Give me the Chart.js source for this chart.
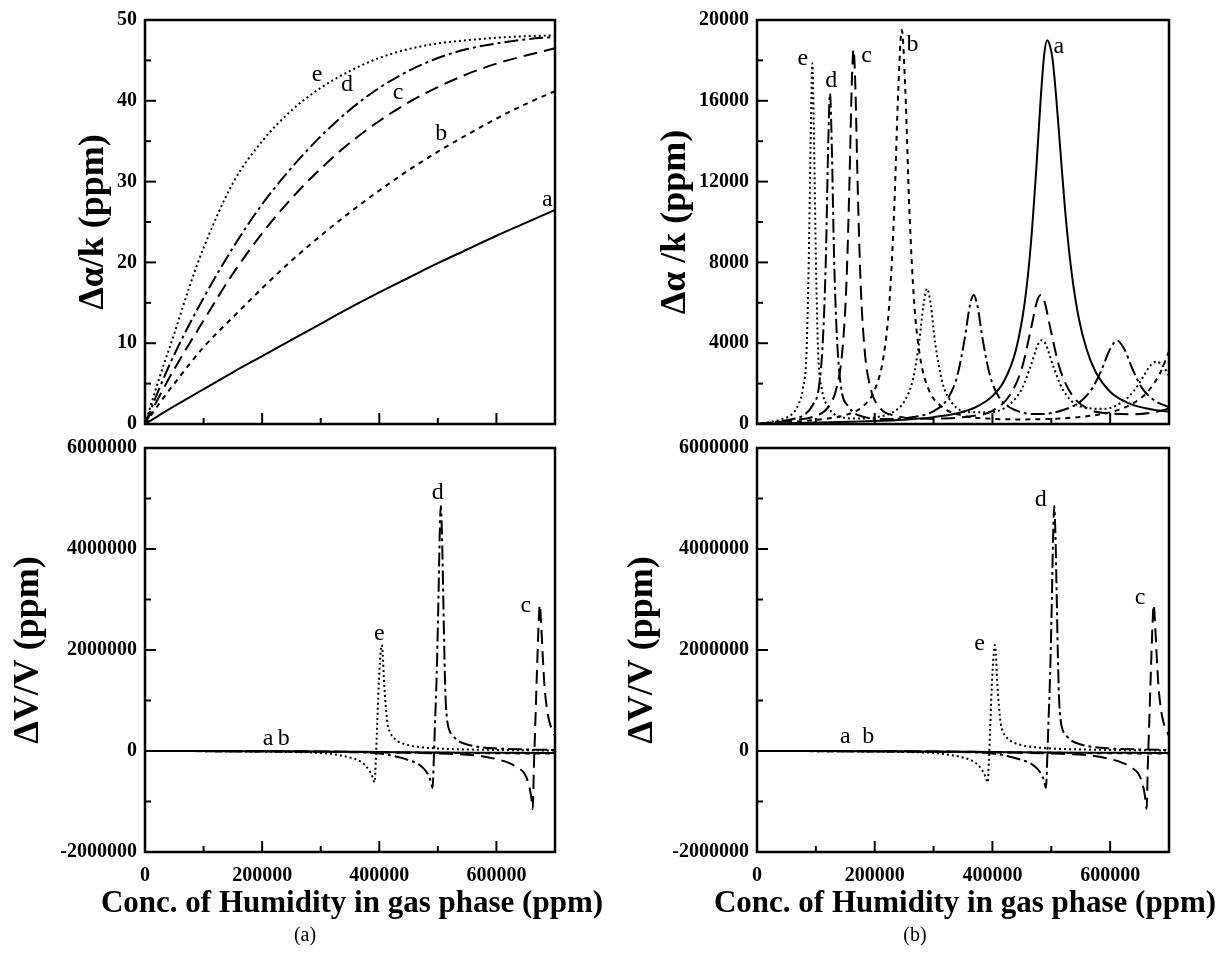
<!DOCTYPE html>
<html>
<head>
<meta charset="utf-8">
<script src="https://cdn.jsdelivr.net/npm/chart.js@4.4.1/dist/chart.umd.min.js"></script>
<style>
  html, body { margin: 0; padding: 0; background: #fff; }
  body { width: 1223px; height: 954px; position: relative; overflow: hidden; font-family: "Liberation Serif", "Times New Roman", serif; }
  canvas { position: absolute; }
  .cap { position: absolute; font-size: 20px; transform: translate(-50%, -50%); white-space: nowrap; }
  .xt { position: absolute; font-size: 31px; font-weight: bold; transform: translate(-50%, -50%); white-space: nowrap; }
</style>
</head>
<body>
<canvas id="tl" width="600" height="460" style="left:0;top:0"></canvas>
<canvas id="bl" width="600" height="534" style="left:0;top:420px"></canvas>
<canvas id="tr" width="611" height="460" style="left:612px;top:0"></canvas>
<canvas id="br" width="611" height="534" style="left:612px;top:420px"></canvas>
<div class="xt" style="left:352px;top:902px">Conc. of Humidity in gas phase (ppm)</div>
<div class="xt" style="left:965px;top:902px">Conc. of Humidity in gas phase (ppm)</div>
<div class="cap" style="left:305px;top:934px">(a)</div>
<div class="cap" style="left:915px;top:934px">(b)</div>
<script>
// x: humidity in gas phase (ppm)
const xTicks = [0, 200000, 400000, 600000];
const xMinor = [100000, 300000, 500000];

// ---- (a) top: Δα/k (ppm) ----
const tlTicks = [0, 10, 20, 30, 40, 50];
const tlMinor = [5, 15, 25, 35, 45];
const tlA = [[0,0],[50000,2.2],[100000,4.3],[150000,6.4],[200000,8.4],[250000,10.4],[300000,12.4],[350000,14.4],[400000,16.3],[450000,18.1],[500000,19.9],[550000,21.6],[600000,23.3],[650000,24.9],[700000,26.5]];
const tlB = [[0,0],[25000,2.6],[50000,5],[100000,9.5],[150000,13.2],[200000,16.8],[250000,20.2],[300000,23.3],[350000,26.2],[400000,28.9],[450000,31.4],[500000,33.7],[550000,35.8],[600000,37.8],[650000,39.6],[700000,41.2]];
const tlC = [[0,0],[25000,3.5],[50000,6.8],[100000,12.8],[150000,18.6],[200000,23.6],[250000,27.9],[300000,31.6],[350000,34.8],[400000,37.5],[450000,39.8],[500000,41.7],[550000,43.3],[600000,44.6],[650000,45.6],[700000,46.5]];
const tlD = [[0,0],[25000,4.5],[50000,8.6],[100000,15.6],[150000,21.8],[200000,27.2],[250000,31.7],[300000,35.6],[350000,38.9],[400000,41.6],[450000,43.7],[500000,45.3],[550000,46.4],[600000,47.1],[650000,47.6],[700000,47.9]];
const tlE = [[0,0],[25000,5.8],[50000,11.2],[75000,16.8],[100000,21.8],[150000,29.8],[200000,35],[250000,38.8],[300000,41.6],[350000,43.7],[400000,45.3],[450000,46.4],[500000,47.1],[550000,47.5],[600000,47.8],[650000,48],[700000,48.1]];
const tlLabels = [['e',294000,43.2],['d',345000,42],['c',432000,41],['b',506000,35.9],['a',687000,27.7]];

// ---- (b) top: Δα/k (ppm) ----
const trTicks = [0, 4000, 8000, 12000, 16000, 20000];
const trMinor = [2000, 6000, 10000, 14000, 18000];
const trA = [[0,0],[50000,40],[100000,80],[200000,150],[250000,215],[300000,340],[340000,530],[370000,810],[400000,1380],[420000,2140],[440000,3680],[455000,6050],[465000,8800],[475000,12840],[482000,16100],[488000,18300],[493000,19000],[498000,18700],[502000,18100],[508000,16300],[515000,13700],[525000,10100],[535000,7400],[547000,5200],[560000,3700],[575000,2600],[600000,1600],[630000,1050],[660000,780],[700000,600]];
const trB = [[0,0],[100000,205],[150000,440],[180000,875],[200000,1690],[215000,3340],[225000,6040],[233000,10520],[240000,16510],[246000,19500],[252000,16510],[259000,10520],[267000,6040],[277000,3340],[292000,1690],[312000,900],[350000,415],[400000,260],[450000,227],[500000,255],[550000,351],[600000,580],[630000,880],[655000,1350],[670000,1820],[685000,2530],[700000,3590]];
const trC = [[0,0],[60000,180],[100000,410],[120000,795],[135000,1770],[145000,3620],[152000,7000],[157000,11860],[161000,16800],[164000,18550],[167000,16800],[171000,11860],[176000,7000],[183000,3620],[193000,1770],[208000,830],[240000,380],[280000,263],[320000,273],[360000,376],[400000,650],[430000,1450],[450000,2760],[465000,4645],[476000,6100],[482000,6390],[488000,6110],[499000,4660],[514000,2790],[534000,1490],[564000,730],[600000,520],[640000,480],[680000,610],[700000,765]];
const trD = [[0,0],[50000,190],[80000,450],[95000,950],[105000,1790],[112000,4180],[117000,8200],[121000,13860],[124000,16360],[127000,13860],[131000,8200],[136000,4180],[143000,1790],[155000,880],[180000,367],[220000,250],[260000,320],[300000,640],[325000,1300],[340000,2350],[352000,4070],[362000,5910],[368000,6390],[374000,5920],[384000,4090],[396000,2380],[411000,1340],[440000,670],[480000,490],[520000,690],[550000,1120],[570000,1790],[585000,2650],[600000,3710],[612000,4130],[624000,3710],[639000,2650],[654000,1790],[674000,1190],[700000,830]];
const trE = [[0,0],[40000,220],[60000,500],[70000,940],[78000,1750],[84000,3450],[88000,8180],[91000,13750],[94000,17860],[97000,13750],[100000,8200],[104000,3460],[110000,1760],[120000,880],[140000,369],[170000,267],[200000,324],[230000,576],[250000,1105],[265000,2215],[275000,3940],[283000,5930],[289000,6700],[295000,5950],[303000,3950],[315000,2056],[330000,1096],[360000,580],[400000,595],[430000,990],[450000,1740],[465000,2870],[478000,3970],[484000,4150],[490000,3980],[503000,2890],[520000,1680],[550000,865],[590000,750],[620000,1080],[640000,1620],[655000,2280],[668000,2880],[679000,3085],[690000,2860],[700000,2390]];
const trLabels = [['e',78000,18070],['d',126000,17000],['c',186000,18230],['b',264000,18800],['a',513000,18700]];

// ---- (a),(b) bottom: ΔV/V (ppm), same curves in both ----
const dvTicks = [-2000000, 0, 2000000, 4000000, 6000000];
const dvMinor = [-1000000, 1000000, 3000000, 5000000];
const dvA = [[0,0],[100000,-2000],[200000,-5000],[300000,-10000],[400000,-20000],[500000,-30000],[600000,-35000],[700000,-40000]];
const dvB = [[0,0],[100000,-3000],[200000,-8000],[300000,-15000],[400000,-25000],[500000,-35000],[600000,-45000],[700000,-50000]];
const dvC = [[0,0],[300000,-10000],[400000,-25000],[500000,-50000],[568000,-90000],[600000,-160000],[620000,-230000],[635000,-320000],[648000,-450000],[655000,-650000],[659000,-880000],[662000,-1150000],[664000,-300000],[666000,400000],[669000,1500000],[672000,2500000],[674000,2900000],[676000,2600000],[679000,1900000],[682000,1300000],[686000,850000],[690000,600000],[695000,420000],[700000,300000]];
const dvD = [[0,0],[200000,-5000],[300000,-15000],[400000,-50000],[432000,-120000],[450000,-180000],[466000,-255000],[476000,-350000],[483000,-460000],[488000,-600000],[491000,-730000],[493000,-200000],[495000,500000],[498000,1500000],[501000,3000000],[503000,4200000],[505000,4850000],[507000,4300000],[509000,3200000],[511000,2000000],[513000,1100000],[516000,600000],[520000,400000],[526000,300000],[535000,200000],[550000,130000],[570000,80000],[600000,50000],[650000,30000],[700000,20000]];
const dvE = [[0,0],[100000,-3000],[200000,-10000],[250000,-20000],[300000,-40000],[330000,-80000],[350000,-130000],[365000,-190000],[375000,-270000],[383000,-390000],[388000,-500000],[392000,-620000],[394000,-200000],[396000,400000],[399000,1300000],[402000,1900000],[404000,2100000],[406000,1900000],[408000,1400000],[411000,900000],[414000,550000],[418000,380000],[424000,270000],[432000,190000],[445000,130000],[465000,85000],[500000,50000],[550000,30000],[600000,20000],[650000,15000],[700000,10000]];
const blLabels = [['a',210000,250000],['b',237000,250000],['e',400000,2330000],['d',500000,5110000],['c',650000,2870000]];
const brLabels = [['a',150000,280000],['b',189000,280000],['e',378000,2130000],['d',482000,4980000],['c',651000,3030000]];

const TICK_FONT = { family: '"Liberation Serif", serif', size: 20, weight: 'bold' };
const TITLE_FONT = { family: '"Liberation Serif", serif', size: 36, weight: 'bold' };

const DASH = { a: [], b: [5, 5], c: [14, 7], d: [14, 4, 3, 4], e: [2, 3] };

// ticks point inward + frame round the plot area
const innerTicks = {
  id: 'innerTicks',
  afterDatasetsDraw(chart, args, opts) {
    const { ctx, chartArea: area, scales: { x, y } } = chart;
    ctx.save();
    ctx.strokeStyle = '#000';
    ctx.lineWidth = 2;
    const mark = (vals, len, horiz) => vals.forEach(v => {
      ctx.beginPath();
      if (horiz) {
        const px = x.getPixelForValue(v);
        ctx.moveTo(px, area.bottom); ctx.lineTo(px, area.bottom - len);
      } else {
        const py = y.getPixelForValue(v);
        ctx.moveTo(area.left, py); ctx.lineTo(area.left + len, py);
      }
      ctx.stroke();
    });
    mark(opts.xMajor, 11, true);
    mark(opts.xMinor, 6, true);
    mark(opts.yMajor, 11, false);
    mark(opts.yMinor, 6, false);
    ctx.lineWidth = 2.5;
    ctx.strokeRect(area.left, area.top, area.right - area.left, area.bottom - area.top);
    ctx.restore();
  }
};

// curve letters a..e, placed in data units
const curveLabels = {
  id: 'curveLabels',
  afterDatasetsDraw(chart, args, opts) {
    const { ctx, scales: { x, y } } = chart;
    ctx.save();
    ctx.font = '24px "Liberation Serif", serif';
    ctx.fillStyle = '#000';
    ctx.textAlign = 'center';
    ctx.textBaseline = 'middle';
    opts.items.forEach(([t, vx, vy]) => ctx.fillText(t, x.getPixelForValue(vx), y.getPixelForValue(vy)));
    ctx.restore();
  }
};

function panel(id, cfg) {
  const datasets = cfg.series.map(([key, pts]) => ({
    label: key,
    data: pts.map(([x, y]) => ({ x, y })),
    borderColor: '#000',
    borderWidth: 2,
    borderDash: DASH[key],
    pointRadius: 0,
    fill: false,
    cubicInterpolationMode: 'monotone'
  }));
  return new Chart(document.getElementById(id), {
    type: 'line',
    data: { datasets },
    options: {
      responsive: false,
      animation: false,
      layout: { padding: cfg.pad },
      plugins: {
        legend: { display: false },
        tooltip: { enabled: false },
        innerTicks: { xMajor: xTicks, xMinor: xMinor, yMajor: cfg.yTicks, yMinor: cfg.yMinor },
        curveLabels: { items: cfg.labels }
      },
      scales: {
        x: {
          type: 'linear', min: 0, max: 700000,
          grid: { display: false, drawTicks: false },
          border: { display: false },
          afterBuildTicks: s => { s.ticks = xTicks.map(v => ({ value: v })); },
          ticks: { display: cfg.showX, font: TICK_FONT, color: '#000', padding: 12, maxRotation: 0, autoSkip: false, callback: v => String(v) },
          afterFit: s => { s.height = cfg.xHeight; }
        },
        y: {
          type: 'linear', min: cfg.yTicks[0], max: cfg.yTicks[cfg.yTicks.length - 1],
          grid: { display: false, drawTicks: false },
          border: { display: false },
          afterBuildTicks: s => { s.ticks = cfg.yTicks.map(v => ({ value: v })); },
          ticks: { font: TICK_FONT, color: '#000', padding: 8, autoSkip: false, callback: v => String(v) },
          title: { display: true, text: cfg.yTitle, font: TITLE_FONT, color: '#000', padding: { top: cfg.yTitlePad } },
          afterFit: s => { s.width = 145; }
        }
      }
    },
    plugins: [innerTicks, curveLabels]
  });
}

panel('tl', {
  series: [['a', tlA], ['b', tlB], ['c', tlC], ['d', tlD], ['e', tlE]],
  labels: tlLabels, yTicks: tlTicks, yMinor: tlMinor,
  yTitle: 'Δα/k (ppm)', yTitlePad: 72,
  pad: { top: 20, right: 45, left: 0, bottom: 0 }, xHeight: 36, showX: false
});
panel('bl', {
  series: [['a', dvA], ['b', dvB], ['c', dvC], ['d', dvD], ['e', dvE]],
  labels: blLabels, yTicks: dvTicks, yMinor: dvMinor,
  yTitle: 'ΔV/V (ppm)', yTitlePad: 7,
  pad: { top: 28, right: 45, left: 0, bottom: 0 }, xHeight: 102, showX: true
});
panel('tr', {
  series: [['a', trA], ['b', trB], ['c', trC], ['d', trD], ['e', trE]],
  labels: trLabels, yTicks: trTicks, yMinor: trMinor,
  yTitle: 'Δα /k (ppm)', yTitlePad: 42,
  pad: { top: 20, right: 54, left: 0, bottom: 0 }, xHeight: 36, showX: false
});
panel('br', {
  series: [['a', dvA], ['b', dvB], ['c', dvC], ['d', dvD], ['e', dvE]],
  labels: brLabels, yTicks: dvTicks, yMinor: dvMinor,
  yTitle: 'ΔV/V (ppm)', yTitlePad: 9,
  pad: { top: 28, right: 54, left: 0, bottom: 0 }, xHeight: 102, showX: true
});
</script>
</body>
</html>
